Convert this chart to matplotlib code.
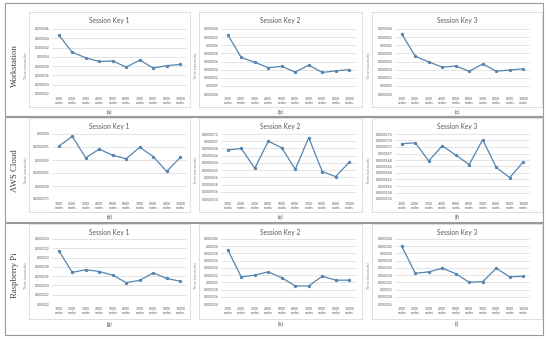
import numpy as np
import matplotlib.pyplot as plt
from matplotlib.patches import Rectangle

W, H = 550, 339

nodes = ['%d\nnodes' % n for n in range(1000, 11000, 1000)]
rows = ['Workstation', 'AWS Cloud', 'Raspberry Pi']
titles = ['Session Key 1', 'Session Key 2', 'Session Key 3']
letters = ['(a)', '(b)', '(c)', '(d)', '(e)', '(f)', '(g)', '(h)', '(i)']

ws_k1 = [0.0000447, 0.0000410, 0.0000398, 0.0000390, 0.0000391, 0.0000378, 0.0000393, 0.0000376, 0.0000381, 0.0000384]
ws_k2 = [0.0000626, 0.0000570, 0.0000558, 0.0000545, 0.0000548, 0.0000534, 0.0000551, 0.0000533, 0.0000537, 0.0000540]
ws_k3 = [0.0000628, 0.0000573, 0.0000559, 0.0000546, 0.0000549, 0.0000536, 0.0000554, 0.0000536, 0.0000539, 0.0000542]
aws_k1 = [0.00003953, 0.00003991, 0.00003908, 0.00003942, 0.00003918, 0.00003905, 0.00003949, 0.00003913, 0.00003856, 0.0000391]
aws_k2 = [0.00005676, 0.0000568, 0.00005625, 0.000057, 0.00005682, 0.00005622, 0.0000571, 0.00005616, 0.00005602, 0.00005642]
aws_k3 = [0.0000573, 0.00005733, 0.00005677, 0.00005724, 0.00005695, 0.00005666, 0.00005743, 0.00005657, 0.00005626, 0.00005674]
rpi_k1 = [0.0002315, 0.0002268, 0.0002274, 0.0002270, 0.0002262, 0.0002246, 0.0002251, 0.0002267, 0.0002255, 0.0002249]
rpi_k2 = [0.0003390, 0.0003315, 0.0003320, 0.0003329, 0.0003313, 0.0003290, 0.0003290, 0.0003317, 0.0003306, 0.0003306]
rpi_k3 = [0.0003420, 0.0003345, 0.0003349, 0.0003359, 0.0003344, 0.0003320, 0.0003322, 0.0003359, 0.0003335, 0.0003337]

series = [[ws_k1, ws_k2, ws_k3], [aws_k1, aws_k2, aws_k3], [rpi_k1, rpi_k2, rpi_k3]]

# y axis (min, max, step) for each panel
yaxes = [
    [(0.000032, 0.000046, 0.000002), (0.000048, 0.000064, 0.000002), (0.000048, 0.000064, 0.000002)],
    [(0.0000375, 0.00004, 0.0000005), (0.0000554, 0.0000572, 0.0000002), (0.0000556, 0.0000576, 0.0000002)],
    [(0.00022, 0.000234, 0.000002), (0.000324, 0.000342, 0.000002), (0.000326, 0.000344, 0.000002)],
]

LINE = '#5585B0'
GRID = '#D9D9D9'
SANS = 'Lato'

# pixel layout
plot_x = [(52, 187), (221, 356), (395, 530)]
box_x = [(29, 190), (199, 362), (372, 542)]
plot_y = [(29, 94), (134, 199), (239, 304)]
box_y = [(12, 107), (118, 212), (224, 319)]
frame_y = [(3, 116), (117, 222), (223, 335)]


def fx(x):
    return x / W


def fy(y):
    return 1 - y / H


def fmt(v):
    s = '{:.8f}'.format(v).rstrip('0')
    return s.rstrip('.')


fig = plt.figure(figsize=(W / 100, H / 100), dpi=100)
fig.patch.set_facecolor('white')

for r in range(3):
    fy0, fy1 = frame_y[r]
    fig.patches.append(Rectangle((fx(5), fy(fy1)), fx(543) - fx(5), fy(fy0) - fy(fy1),
                                 transform=fig.transFigure, fill=False, ec='#9A9A9A', lw=0.8))
    py0, py1 = plot_y[r]
    fig.text(fx(15), fy((py0 + py1) / 2 + 4), rows[r], rotation=90, ha='center', va='center',
             family='Liberation Serif', fontsize=6.3, color='#404040')
    for c in range(3):
        bx0, bx1 = box_x[c]
        by0, by1 = box_y[r]
        fig.patches.append(Rectangle((fx(bx0), fy(by1)), fx(bx1) - fx(bx0), fy(by0) - fy(by1),
                                     transform=fig.transFigure, fill=False, ec=GRID, lw=0.6))
        px0, px1 = plot_x[c]
        ax = fig.add_axes([fx(px0), fy(py1), fx(px1) - fx(px0), fy(py0) - fy(py1)])
        vals = series[r][c]
        ax.plot(range(len(vals)), vals, color=LINE, lw=0.9, marker='o', ms=1.4)
        lo, hi, step = yaxes[r][c]
        n = int(round((hi - lo) / step)) + 1
        ticks = np.linspace(lo, hi, n)
        ax.set_ylim(lo, hi)
        ax.set_yticks(ticks)
        ax.set_yticklabels([fmt(t) for t in ticks])
        ax.set_xlim(-0.5, len(vals) - 0.5)
        ax.set_xticks(range(len(vals)))
        ax.set_xticklabels(nodes)
        ax.tick_params(length=0, labelsize=2.4, labelcolor='#595959', pad=2)
        for lab in ax.get_xticklabels() + ax.get_yticklabels():
            lab.set_family(SANS)
        ax.grid(axis='y', color=GRID, lw=0.5)
        ax.set_axisbelow(True)
        for s in ax.spines.values():
            s.set_visible(False)
        ax.set_facecolor('none')
        fig.text(fx((bx0 + bx1) / 2), fy(by0 + 8), titles[c], ha='center', va='center',
                 family=SANS, fontsize=4.8, color='#595959')
        fig.text(fx(bx0 - 4), fy((py0 + py1) / 2 + 4), 'Time (seconds)', rotation=90,
                 ha='center', va='center', family=SANS, fontsize=3, color='#8C8C8C')
        fig.text(fx((bx0 + bx1) / 2), fy(by1 + 5), letters[r * 3 + c], ha='center', va='center',
                 family=SANS, fontsize=4, color='#404040')

fig.savefig('out.png', dpi=100)
